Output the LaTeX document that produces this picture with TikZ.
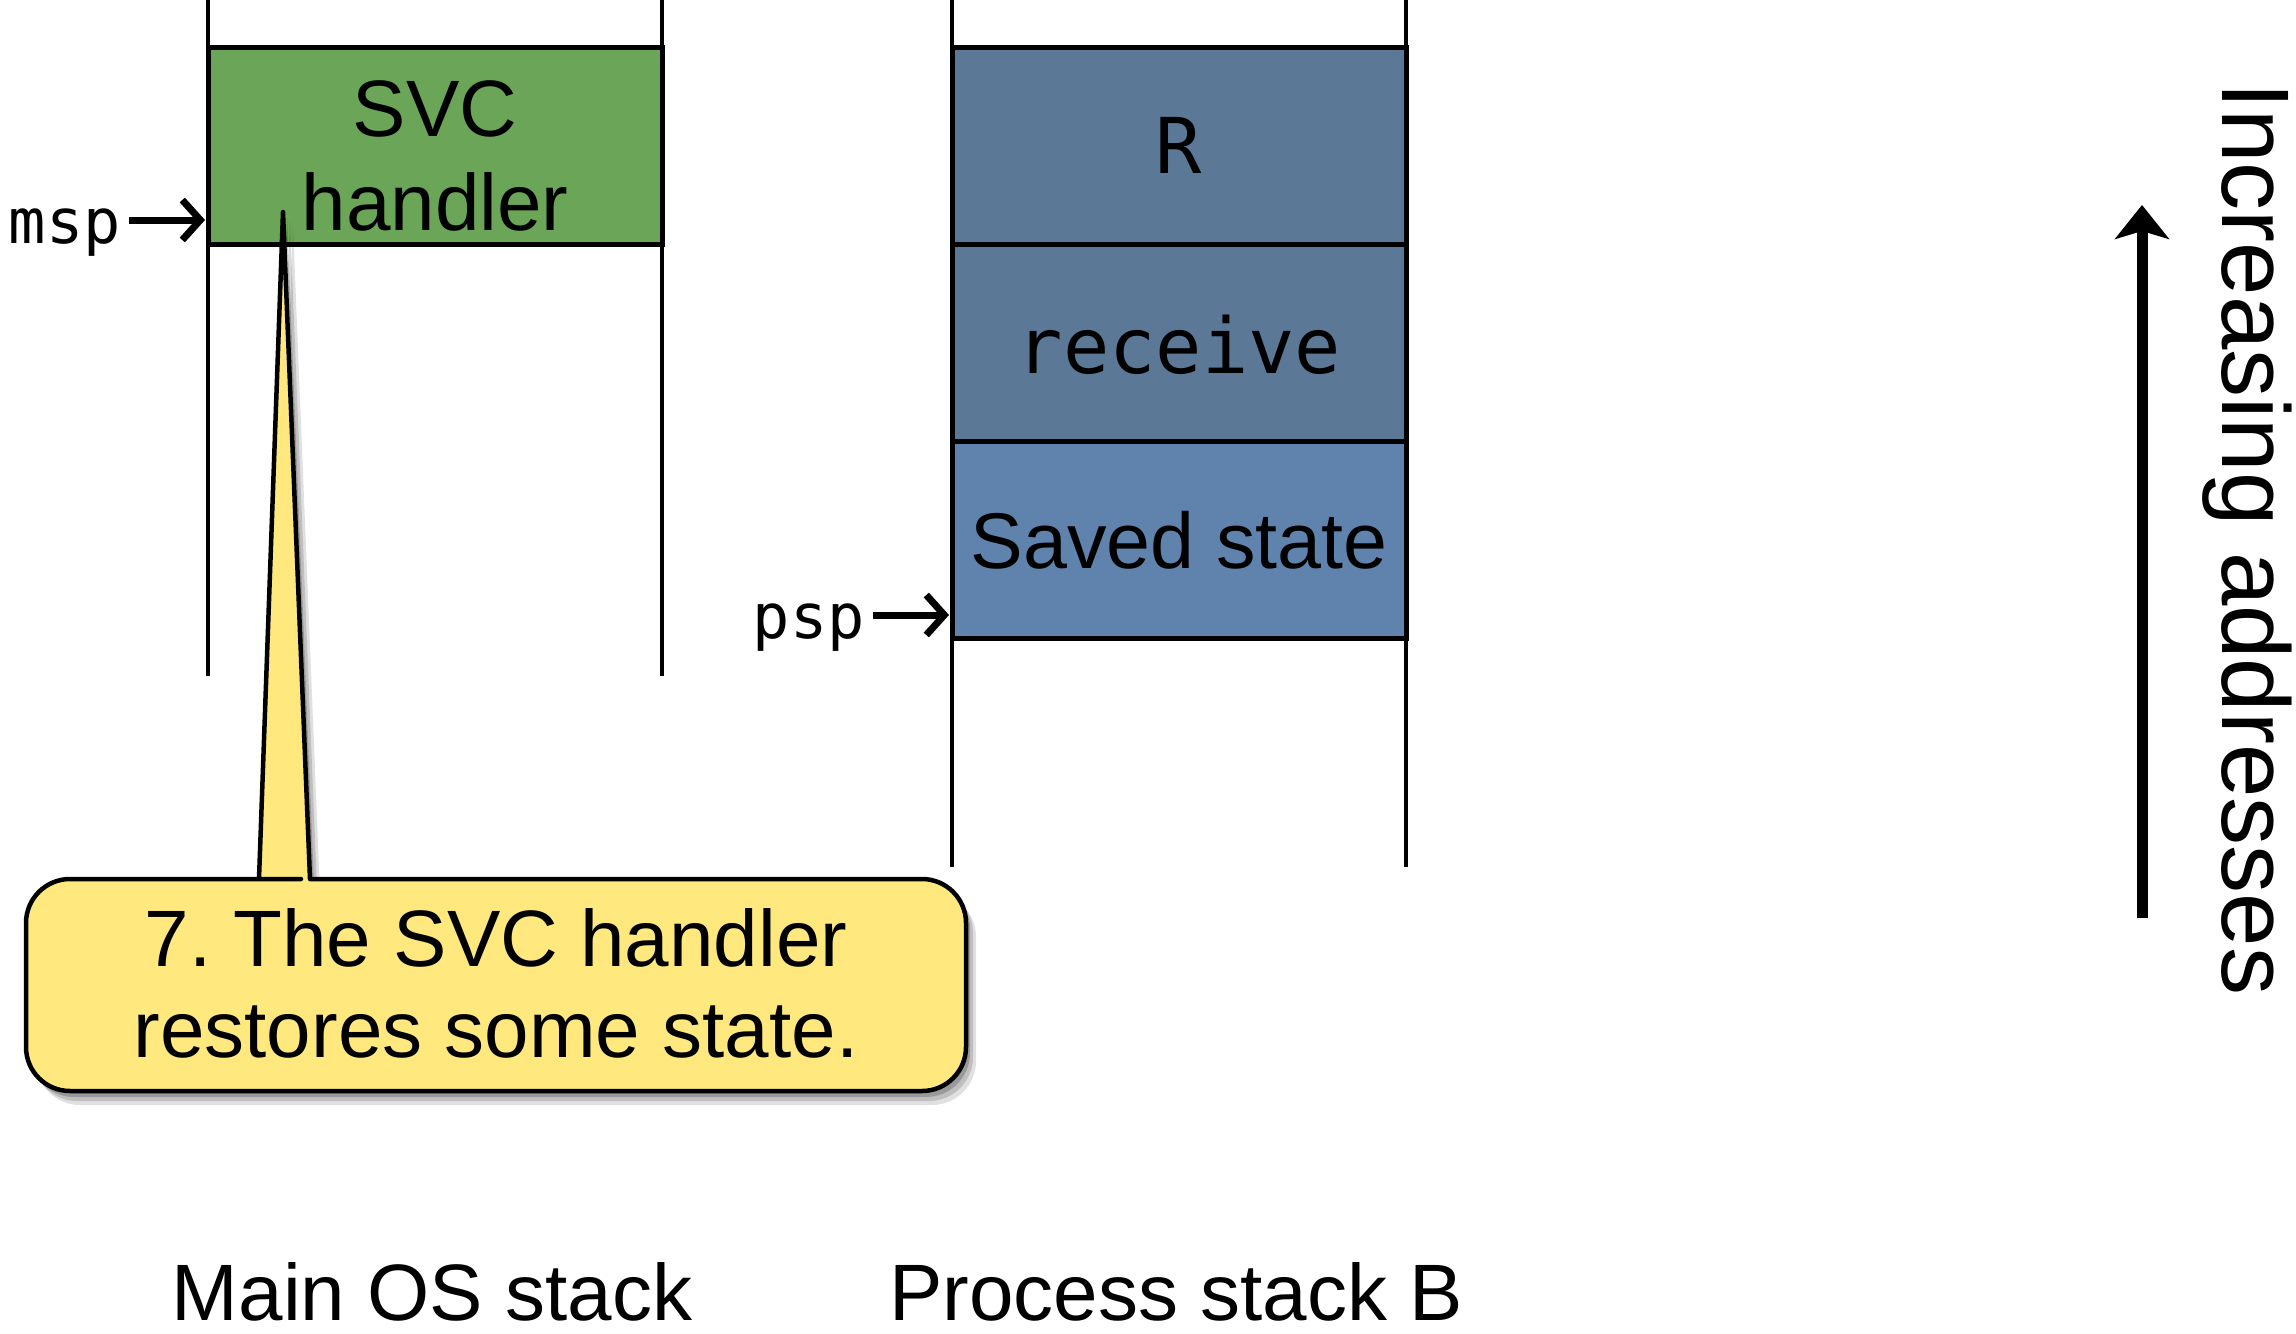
\documentclass[tikz,border=0pt]{standalone}
\usepackage{fontspec}
\setmainfont{Liberation Sans}
\setmonofont{DejaVu Sans Mono}
\usetikzlibrary{arrows.meta,shadows}
\definecolor{svcgreen}{HTML}{6BA557}
\definecolor{dkblue}{HTML}{5B7897}
\definecolor{ltblue}{HTML}{6083AD}
\definecolor{callyellow}{HTML}{FFE97F}
\newcommand{\fsz}[1]{\fontsize{#1}{#1}\selectfont}
\frenchspacing
\begin{document}
\begin{tikzpicture}[x=1pt,y=-1pt,
  wall/.style={line width=4.5pt},
  stackbox/.style={draw, line width=5pt, rectangle, inner sep=0pt, outer sep=0pt,
    minimum width=454pt, minimum height=197pt},
  sanslabel/.style={font=\fsz{80}, inner sep=0pt, anchor=base},
  monolabel/.style={font=\ttfamily\fsz{77}, inner sep=0pt, anchor=base},
  ptrlabel/.style={font=\ttfamily\fsz{62}, inner sep=0pt, anchor=base east},
  ptr/.style={line width=7pt, -{Straight Barb[length=18pt, width=40pt, line width=7pt]}},
  bigarrow/.style={line width=11pt, -{Stealth[length=34pt, width=54pt, inset=8pt]}},
  callout/.style={draw, line width=4.5pt, fill=callyellow, line join=round,
    preaction={fill=black, opacity=0.12, transform canvas={shift={(10pt,-14pt)}}},
    preaction={fill=black, opacity=0.15, transform canvas={shift={(7pt,-10pt)}}},
    preaction={fill=black, opacity=0.2, transform canvas={shift={(4pt,-6pt)}}}}
]
\useasboundingbox (0,0) rectangle (2296,1333);

% walls of the two stacks
\coordinate (mTL) at (208,0);  \coordinate (mBL) at (208,676);
\coordinate (mTR) at (662,0);  \coordinate (mBR) at (662,676);
\coordinate (pTL) at (952,0);  \coordinate (pBL) at (952,867);
\coordinate (pTR) at (1406,0); \coordinate (pBR) at (1406,867);
\draw[wall] (mTL) -- (mBL);
\draw[wall] (mTR) -- (mBR);
\draw[wall] (pTL) -- (pBL);
\draw[wall] (pTR) -- (pBR);

% stack frames
\node[stackbox, fill=svcgreen] (svc) at (435,145.5) {};
\node[stackbox, fill=dkblue] (rbox) at (1179,145.5) {};
\node[stackbox, fill=dkblue] (recv) at (1179,342.5) {};
\node[stackbox, fill=ltblue] (saved) at (1179,539.5) {};

\node[sanslabel] (svc1) at (435,136) {SVC};
\node[sanslabel] (svc2) at (435,230) {handler};
\node[monolabel] (rlab) at (1179,173) {R};
\node[monolabel] (recvlab) at (1179,373) {receive};
\node[sanslabel, font=\fsz{79}] (savedlab) at (1179,568) {Saved state};

% stack pointers
\node[ptrlabel] (msp) at (121,243) {msp};
\node[ptrlabel] (psp) at (865,638) {psp};
\coordinate (mspT) at (205,220);
\coordinate (pspT) at (949,615);
\draw[ptr] ([xshift=8pt]msp.east |- mspT) -- (mspT);
\draw[ptr] ([xshift=8pt]psp.east |- pspT) -- (pspT);

% callout
\coordinate (tip) at (283,212);
\path[callout] (259,879) -- (tip) -- (310,879) -- (312,879)
  [rounded corners=44pt] -- (966,879) -- (966,1091) -- (26,1091) -- (26,879) -- (257,879)
  [sharp corners] -- cycle;
\node[sanslabel] (call1) at (496,966) {7. The SVC handler};
\node[sanslabel] (call2) at (496,1057) {restores some state.};

% stack names
\node[sanslabel] (mainlab) at (432,1320) {Main OS stack};
\node[sanslabel] (proclab) at (1176,1320) {Process stack B};

% increasing addresses
\coordinate (incB) at (2142,918);
\coordinate (incT) at (2142,205);
\draw[bigarrow] (incB) -- (incT);
\node[sanslabel, font=\fsz{96}, rotate=-90] (inclab) at (2222,539) {Increasing addresses};
\end{tikzpicture}
\end{document}
